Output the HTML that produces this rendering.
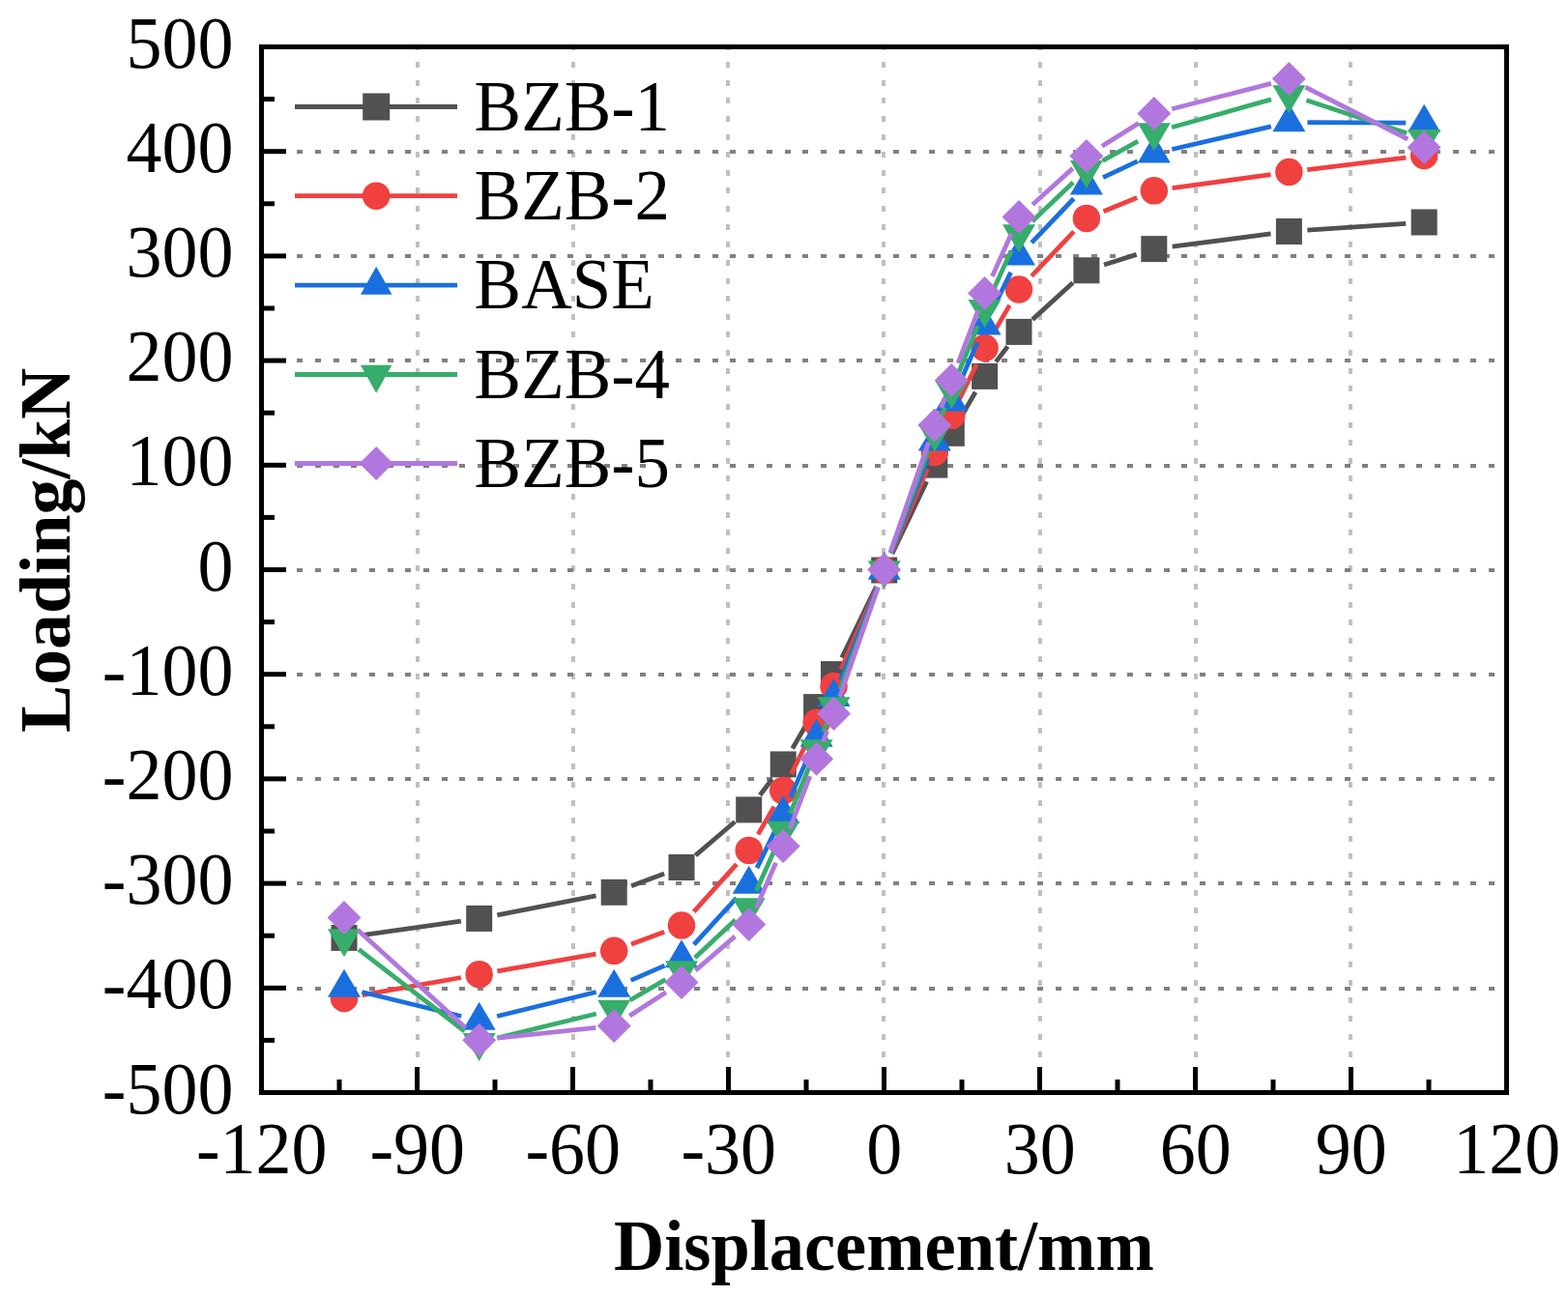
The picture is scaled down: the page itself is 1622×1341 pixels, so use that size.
<!DOCTYPE html>
<html><head><meta charset="utf-8"><style>html,body{margin:0;padding:0;background:#fff;}svg{display:block;}text{font-family:"Liberation Serif","Times New Roman",serif;}</style></head><body>
<svg width="1622" height="1341" viewBox="0 0 1622 1341">
<rect width="1622" height="1341" fill="#fff"/>
<g shape-rendering="crispEdges"><line x1="432" y1="45.5" x2="432" y2="1133" stroke="#C0C0C0" stroke-width="4" stroke-dasharray="6 12.62"/><line x1="593" y1="45.5" x2="593" y2="1133" stroke="#C0C0C0" stroke-width="4" stroke-dasharray="6 12.62"/><line x1="753" y1="45.5" x2="753" y2="1133" stroke="#C0C0C0" stroke-width="4" stroke-dasharray="6 12.62"/><line x1="914" y1="45.5" x2="914" y2="1133" stroke="#C0C0C0" stroke-width="4" stroke-dasharray="6 12.62"/><line x1="1076" y1="45.5" x2="1076" y2="1133" stroke="#C0C0C0" stroke-width="4" stroke-dasharray="6 12.62"/><line x1="1237" y1="45.5" x2="1237" y2="1133" stroke="#C0C0C0" stroke-width="4" stroke-dasharray="6 12.62"/><line x1="1397" y1="45.5" x2="1397" y2="1133" stroke="#C0C0C0" stroke-width="4" stroke-dasharray="6 12.62"/><line x1="269.8" y1="156.9" x2="1560" y2="156.9" stroke="#808080" stroke-width="4" stroke-dasharray="6 12.68"/><line x1="269.8" y1="265.1" x2="1560" y2="265.1" stroke="#808080" stroke-width="4" stroke-dasharray="6 12.68"/><line x1="269.8" y1="373.3" x2="1560" y2="373.3" stroke="#808080" stroke-width="4" stroke-dasharray="6 12.68"/><line x1="269.8" y1="481.5" x2="1560" y2="481.5" stroke="#808080" stroke-width="4" stroke-dasharray="6 12.68"/><line x1="269.8" y1="589.7" x2="1560" y2="589.7" stroke="#808080" stroke-width="4" stroke-dasharray="6 12.68"/><line x1="269.8" y1="697.9" x2="1560" y2="697.9" stroke="#808080" stroke-width="4" stroke-dasharray="6 12.68"/><line x1="269.8" y1="806.1" x2="1560" y2="806.1" stroke="#808080" stroke-width="4" stroke-dasharray="6 12.68"/><line x1="269.8" y1="914.3" x2="1560" y2="914.3" stroke="#808080" stroke-width="4" stroke-dasharray="6 12.68"/><line x1="269.8" y1="1022.5" x2="1560" y2="1022.5" stroke="#808080" stroke-width="4" stroke-dasharray="6 12.68"/></g>
<g><line x1="270" y1="1130.5" x2="296" y2="1130.5" stroke="#000" stroke-width="5"/><line x1="270" y1="1076.4" x2="284" y2="1076.4" stroke="#000" stroke-width="5"/><line x1="270" y1="1022.3" x2="296" y2="1022.3" stroke="#000" stroke-width="5"/><line x1="270" y1="968.2" x2="284" y2="968.2" stroke="#000" stroke-width="5"/><line x1="270" y1="914.1" x2="296" y2="914.1" stroke="#000" stroke-width="5"/><line x1="270" y1="860" x2="284" y2="860" stroke="#000" stroke-width="5"/><line x1="270" y1="805.9" x2="296" y2="805.9" stroke="#000" stroke-width="5"/><line x1="270" y1="751.8" x2="284" y2="751.8" stroke="#000" stroke-width="5"/><line x1="270" y1="697.7" x2="296" y2="697.7" stroke="#000" stroke-width="5"/><line x1="270" y1="643.6" x2="284" y2="643.6" stroke="#000" stroke-width="5"/><line x1="270" y1="589.5" x2="296" y2="589.5" stroke="#000" stroke-width="5"/><line x1="270" y1="535.4" x2="284" y2="535.4" stroke="#000" stroke-width="5"/><line x1="270" y1="481.3" x2="296" y2="481.3" stroke="#000" stroke-width="5"/><line x1="270" y1="427.2" x2="284" y2="427.2" stroke="#000" stroke-width="5"/><line x1="270" y1="373.1" x2="296" y2="373.1" stroke="#000" stroke-width="5"/><line x1="270" y1="319" x2="284" y2="319" stroke="#000" stroke-width="5"/><line x1="270" y1="264.9" x2="296" y2="264.9" stroke="#000" stroke-width="5"/><line x1="270" y1="210.8" x2="284" y2="210.8" stroke="#000" stroke-width="5"/><line x1="270" y1="156.7" x2="296" y2="156.7" stroke="#000" stroke-width="5"/><line x1="270" y1="102.6" x2="284" y2="102.6" stroke="#000" stroke-width="5"/><line x1="270" y1="48.5" x2="296" y2="48.5" stroke="#000" stroke-width="5"/><line x1="270.5" y1="1130" x2="270.5" y2="1104" stroke="#000" stroke-width="5"/><line x1="351" y1="1130" x2="351" y2="1117" stroke="#000" stroke-width="5"/><line x1="431.5" y1="1130" x2="431.5" y2="1104" stroke="#000" stroke-width="5"/><line x1="512" y1="1130" x2="512" y2="1117" stroke="#000" stroke-width="5"/><line x1="592.5" y1="1130" x2="592.5" y2="1104" stroke="#000" stroke-width="5"/><line x1="673" y1="1130" x2="673" y2="1117" stroke="#000" stroke-width="5"/><line x1="753.5" y1="1130" x2="753.5" y2="1104" stroke="#000" stroke-width="5"/><line x1="834" y1="1130" x2="834" y2="1117" stroke="#000" stroke-width="5"/><line x1="914.5" y1="1130" x2="914.5" y2="1104" stroke="#000" stroke-width="5"/><line x1="995" y1="1130" x2="995" y2="1117" stroke="#000" stroke-width="5"/><line x1="1075.5" y1="1130" x2="1075.5" y2="1104" stroke="#000" stroke-width="5"/><line x1="1156" y1="1130" x2="1156" y2="1117" stroke="#000" stroke-width="5"/><line x1="1236.5" y1="1130" x2="1236.5" y2="1104" stroke="#000" stroke-width="5"/><line x1="1317" y1="1130" x2="1317" y2="1117" stroke="#000" stroke-width="5"/><line x1="1397.5" y1="1130" x2="1397.5" y2="1104" stroke="#000" stroke-width="5"/><line x1="1478" y1="1130" x2="1478" y2="1117" stroke="#000" stroke-width="5"/><line x1="1558.5" y1="1130" x2="1558.5" y2="1104" stroke="#000" stroke-width="5"/></g>
<path d="M374.81 967.71L476.89 953.09M514.35 946.78L616.55 926.92M653.02 916.71L687.18 904.09M719.44 885.15L760.26 850.25M786.15 822.74L798.75 806.06M819.73 774.47L835.07 748.03M853.45 714.79L853.65 714.41M870.79 680.51L906.41 607.09M922.9 572.86L958.6 498.24M993.86 431.88L1009.04 405.82M1030.19 374.34L1042.41 358.46M1068.05 330.61L1109.85 292.59M1142.01 274.05L1175.69 263.35M1212.64 255.16L1314.56 241.94M1352.36 238.21L1454.24 231.29" stroke="#515151" stroke-width="4.8" fill="none"/>
<g><rect x="342.5" y="956.9" width="27" height="27" fill="#515151"/><rect x="482.2" y="936.9" width="27" height="27" fill="#515151"/><rect x="621.7" y="909.8" width="27" height="27" fill="#515151"/><rect x="691.5" y="884" width="27" height="27" fill="#515151"/><rect x="761.2" y="824.4" width="27" height="27" fill="#515151"/><rect x="796.7" y="777.4" width="27" height="27" fill="#515151"/><rect x="831.1" y="718.1" width="27" height="27" fill="#515151"/><rect x="849" y="684.1" width="27" height="27" fill="#515151"/><rect x="901.2" y="576.5" width="27" height="27" fill="#515151"/><rect x="953.3" y="467.6" width="27" height="27" fill="#515151"/><rect x="970.8" y="434.8" width="27" height="27" fill="#515151"/><rect x="1005.1" y="375.9" width="27" height="27" fill="#515151"/><rect x="1040.5" y="329.9" width="27" height="27" fill="#515151"/><rect x="1110.4" y="266.3" width="27" height="27" fill="#515151"/><rect x="1180.3" y="244.1" width="27" height="27" fill="#515151"/><rect x="1319.9" y="226" width="27" height="27" fill="#515151"/><rect x="1459.7" y="216.5" width="27" height="27" fill="#515151"/></g>
<path d="M374.71 1029.59L476.99 1011.51M514.42 1004.93L616.48 987.07M652.98 977.1L687.22 964.2M717.7 943.36L762 894.04M784.16 863.42L800.74 834.58M818.55 801.03L836.25 764.87M852.73 730.63L854.37 727.17M870.08 692.58L907.12 607.42M922.15 572.52L959.35 485.28M974.75 450.54L976.35 447.06M992.68 412.75L1010.22 377.05M1028.2 343.6L1044.4 315.9M1067.08 285.72L1110.82 239.68M1141.48 218.7L1176.22 204.5M1212.62 194.7L1314.58 180.6M1352.26 175.69L1454.34 163.21" stroke="#F14040" stroke-width="4.8" fill="none"/>
<g><circle cx="356" cy="1032.9" r="14.25" fill="#F14040"/><circle cx="495.7" cy="1008.2" r="14.25" fill="#F14040"/><circle cx="635.2" cy="983.8" r="14.25" fill="#F14040"/><circle cx="705" cy="957.5" r="14.25" fill="#F14040"/><circle cx="774.7" cy="879.9" r="14.25" fill="#F14040"/><circle cx="810.2" cy="818.1" r="14.25" fill="#F14040"/><circle cx="844.6" cy="747.8" r="14.25" fill="#F14040"/><circle cx="862.5" cy="710" r="14.25" fill="#F14040"/><circle cx="914.7" cy="590" r="14.25" fill="#F14040"/><circle cx="966.8" cy="467.8" r="14.25" fill="#F14040"/><circle cx="984.3" cy="429.8" r="14.25" fill="#F14040"/><circle cx="1018.6" cy="360" r="14.25" fill="#F14040"/><circle cx="1054" cy="299.5" r="14.25" fill="#F14040"/><circle cx="1123.9" cy="225.9" r="14.25" fill="#F14040"/><circle cx="1193.8" cy="197.3" r="14.25" fill="#F14040"/><circle cx="1333.4" cy="178" r="14.25" fill="#F14040"/><circle cx="1473.2" cy="160.9" r="14.25" fill="#F14040"/></g>
<path d="M374.46 1026.49L477.24 1051.51M514.16 1051.5L616.74 1026.5M652.61 1014.39L687.59 999.11M717.81 977.47L761.89 929.23M783.02 898.12L801.88 859.38M817.78 824.88L837.02 780.62M852.08 745.73L855.02 738.87M869.51 703.74L907.69 607.66M921.63 572.31L959.87 474.59M974.26 439.43L976.84 433.37M991.86 398.47L1011.04 354.23M1026.98 319.75L1045.62 281.85M1067.14 251.08L1110.76 205.52M1141.08 183.69L1176.62 166.91M1212.31 154.53L1314.89 130.87M1352.4 126.67L1454.2 127.03" stroke="#1A6FDF" stroke-width="4.8" fill="none"/>
<g><path d="M356 1002.67L373 1031.67L339 1031.67Z" fill="#1A6FDF"/><path d="M495.7 1036.67L512.7 1065.67L478.7 1065.67Z" fill="#1A6FDF"/><path d="M635.2 1002.67L652.2 1031.67L618.2 1031.67Z" fill="#1A6FDF"/><path d="M705 972.17L722 1001.17L688 1001.17Z" fill="#1A6FDF"/><path d="M774.7 895.87L791.7 924.87L757.7 924.87Z" fill="#1A6FDF"/><path d="M810.2 822.97L827.2 851.97L793.2 851.97Z" fill="#1A6FDF"/><path d="M844.6 743.87L861.6 772.87L827.6 772.87Z" fill="#1A6FDF"/><path d="M862.5 702.07L879.5 731.07L845.5 731.07Z" fill="#1A6FDF"/><path d="M914.7 570.67L931.7 599.67L897.7 599.67Z" fill="#1A6FDF"/><path d="M966.8 437.57L983.8 466.57L949.8 466.57Z" fill="#1A6FDF"/><path d="M984.3 396.57L1001.3 425.57L967.3 425.57Z" fill="#1A6FDF"/><path d="M1018.6 317.47L1035.6 346.47L1001.6 346.47Z" fill="#1A6FDF"/><path d="M1054 245.47L1071 274.47L1037 274.47Z" fill="#1A6FDF"/><path d="M1123.9 172.47L1140.9 201.47L1106.9 201.47Z" fill="#1A6FDF"/><path d="M1193.8 139.47L1210.8 168.47L1176.8 168.47Z" fill="#1A6FDF"/><path d="M1333.4 107.27L1350.4 136.27L1316.4 136.27Z" fill="#1A6FDF"/><path d="M1473.2 107.77L1490.2 136.77L1456.2 136.77Z" fill="#1A6FDF"/></g>
<path d="M371.04 982.41L480.66 1066.99M514.16 1074.09L616.74 1049.01M651.63 1034.96L688.57 1013.54M718.89 991.03L760.81 951.87M782.46 921.55L802.44 876.85M817.36 841.9L837.44 792.5M851.75 757.29L855.35 748.41M869.1 712.98L908.1 607.82M921.26 572.17L960.24 466.23M973.71 430.7L977.39 421.3M991.49 386.01L1011.41 337.29M1026.48 302.41L1046.12 259.29M1067.79 228.92L1110.11 188.78M1140.5 166.46L1177.2 146.04M1212.1 131.69L1315.1 102.91M1351.45 103.73L1455.15 137.77" stroke="#37AD6B" stroke-width="4.8" fill="none"/>
<g><path d="M339 961.13L373 961.13L356 990.13Z" fill="#37AD6B"/><path d="M478.7 1068.93L512.7 1068.93L495.7 1097.93Z" fill="#37AD6B"/><path d="M618.2 1034.83L652.2 1034.83L635.2 1063.83Z" fill="#37AD6B"/><path d="M688 994.33L722 994.33L705 1023.33Z" fill="#37AD6B"/><path d="M757.7 929.23L791.7 929.23L774.7 958.23Z" fill="#37AD6B"/><path d="M793.2 849.83L827.2 849.83L810.2 878.83Z" fill="#37AD6B"/><path d="M827.6 765.23L861.6 765.23L844.6 794.23Z" fill="#37AD6B"/><path d="M845.5 721.13L879.5 721.13L862.5 750.13Z" fill="#37AD6B"/><path d="M897.7 580.33L931.7 580.33L914.7 609.33Z" fill="#37AD6B"/><path d="M949.8 438.73L983.8 438.73L966.8 467.73Z" fill="#37AD6B"/><path d="M967.3 393.93L1001.3 393.93L984.3 422.93Z" fill="#37AD6B"/><path d="M1001.6 310.03L1035.6 310.03L1018.6 339.03Z" fill="#37AD6B"/><path d="M1037 232.33L1071 232.33L1054 261.33Z" fill="#37AD6B"/><path d="M1106.9 166.03L1140.9 166.03L1123.9 195.03Z" fill="#37AD6B"/><path d="M1176.8 127.13L1210.8 127.13L1193.8 156.13Z" fill="#37AD6B"/><path d="M1316.4 88.13L1350.4 88.13L1333.4 117.13Z" fill="#37AD6B"/><path d="M1456.2 134.03L1490.2 134.03L1473.2 163.03Z" fill="#37AD6B"/></g>
<path d="M370.07 962.26L481.63 1063.44M514.59 1074.2L616.31 1063.4M651.18 1051.12L689.02 1026.78M719.4 1004.1L760.3 968.9M782.32 939.09L802.58 892.81M816.98 857.65L837.82 803.05M851.4 767.56L855.7 756.34M868.78 720.67L908.42 607.53M920.95 571.66L960.55 457.84M973.5 422.12L977.6 411.28M991.06 375.74L1011.84 321.16M1026.37 286.06L1046.23 241.74M1068.11 211.68L1109.79 174.12M1139.99 151.29L1177.71 127.61M1212.2 112.77L1315 86.33M1350.34 90.2L1456.26 144" stroke="#B177DE" stroke-width="4.8" fill="none"/>
<g><path d="M356 932L373.5 949.5L356 967L338.5 949.5Z" fill="#B177DE"/><path d="M495.7 1058.7L513.2 1076.2L495.7 1093.7L478.2 1076.2Z" fill="#B177DE"/><path d="M635.2 1043.9L652.7 1061.4L635.2 1078.9L617.7 1061.4Z" fill="#B177DE"/><path d="M705 999L722.5 1016.5L705 1034L687.5 1016.5Z" fill="#B177DE"/><path d="M774.7 939L792.2 956.5L774.7 974L757.2 956.5Z" fill="#B177DE"/><path d="M810.2 857.9L827.7 875.4L810.2 892.9L792.7 875.4Z" fill="#B177DE"/><path d="M844.6 767.8L862.1 785.3L844.6 802.8L827.1 785.3Z" fill="#B177DE"/><path d="M862.5 721.1L880 738.6L862.5 756.1L845 738.6Z" fill="#B177DE"/><path d="M914.7 572.1L932.2 589.6L914.7 607.1L897.2 589.6Z" fill="#B177DE"/><path d="M966.8 422.4L984.3 439.9L966.8 457.4L949.3 439.9Z" fill="#B177DE"/><path d="M984.3 376L1001.8 393.5L984.3 411L966.8 393.5Z" fill="#B177DE"/><path d="M1018.6 285.9L1036.1 303.4L1018.6 320.9L1001.1 303.4Z" fill="#B177DE"/><path d="M1054 206.9L1071.5 224.4L1054 241.9L1036.5 224.4Z" fill="#B177DE"/><path d="M1123.9 143.9L1141.4 161.4L1123.9 178.9L1106.4 161.4Z" fill="#B177DE"/><path d="M1193.8 100L1211.3 117.5L1193.8 135L1176.3 117.5Z" fill="#B177DE"/><path d="M1333.4 64.1L1350.9 81.6L1333.4 99.1L1315.9 81.6Z" fill="#B177DE"/><path d="M1473.2 135.1L1490.7 152.6L1473.2 170.1L1455.7 152.6Z" fill="#B177DE"/></g>
<line x1="305" y1="110.5" x2="473" y2="110.5" stroke="#515151" stroke-width="4.8"/>
<rect x="375.2" y="96.5" width="28" height="28" fill="#515151"/>
<text transform="translate(490.6 134.7) scale(0.984 1)" font-size="74" fill="#000">BZB-1</text>
<line x1="305" y1="202.7" x2="473" y2="202.7" stroke="#F14040" stroke-width="4.8"/>
<circle cx="389.2" cy="202.7" r="14.25" fill="#F14040"/>
<text transform="translate(490.6 226.9) scale(0.984 1)" font-size="74" fill="#000">BZB-2</text>
<line x1="305" y1="295.2" x2="473" y2="295.2" stroke="#1A6FDF" stroke-width="4.8"/>
<path d="M389.2 275.87L405.45 304.87L372.95 304.87Z" fill="#1A6FDF"/>
<text transform="translate(490.6 319.4) scale(0.984 1)" font-size="74" fill="#000">BASE</text>
<line x1="305" y1="387.5" x2="473" y2="387.5" stroke="#37AD6B" stroke-width="4.8"/>
<path d="M372.95 377.83L405.45 377.83L389.2 406.83Z" fill="#37AD6B"/>
<text transform="translate(490.6 411.7) scale(0.984 1)" font-size="74" fill="#000">BZB-4</text>
<line x1="305" y1="479.5" x2="473" y2="479.5" stroke="#B177DE" stroke-width="4.8"/>
<path d="M389.2 462L406.7 479.5L389.2 497L371.7 479.5Z" fill="#B177DE"/>
<text transform="translate(490.6 503.7) scale(0.984 1)" font-size="74" fill="#000">BZB-5</text>
<rect x="270.5" y="48.5" width="1288" height="1082" fill="none" stroke="#000" stroke-width="5"/>
<text transform="translate(241.5 1151.5) scale(1 1.025)" font-size="74" text-anchor="end">-500</text><text transform="translate(241.5 1043.3) scale(1 1.025)" font-size="74" text-anchor="end">-400</text><text transform="translate(241.5 935.1) scale(1 1.025)" font-size="74" text-anchor="end">-300</text><text transform="translate(241.5 826.9) scale(1 1.025)" font-size="74" text-anchor="end">-200</text><text transform="translate(241.5 718.7) scale(1 1.025)" font-size="74" text-anchor="end">-100</text><text transform="translate(241.5 610.5) scale(1 1.025)" font-size="74" text-anchor="end">0</text><text transform="translate(241.5 502.3) scale(1 1.025)" font-size="74" text-anchor="end">100</text><text transform="translate(241.5 394.1) scale(1 1.025)" font-size="74" text-anchor="end">200</text><text transform="translate(241.5 285.9) scale(1 1.025)" font-size="74" text-anchor="end">300</text><text transform="translate(241.5 177.7) scale(1 1.025)" font-size="74" text-anchor="end">400</text><text transform="translate(241.5 69.5) scale(1 1.025)" font-size="74" text-anchor="end">500</text>
<text transform="translate(270.8 1214.3) scale(1 1.025)" font-size="74" text-anchor="middle">-120</text><text transform="translate(431.8 1214.3) scale(1 1.025)" font-size="74" text-anchor="middle">-90</text><text transform="translate(592.8 1214.3) scale(1 1.025)" font-size="74" text-anchor="middle">-60</text><text transform="translate(753.8 1214.3) scale(1 1.025)" font-size="74" text-anchor="middle">-30</text><text transform="translate(914.8 1214.3) scale(1 1.025)" font-size="74" text-anchor="middle">0</text><text transform="translate(1075.8 1214.3) scale(1 1.025)" font-size="74" text-anchor="middle">30</text><text transform="translate(1236.8 1214.3) scale(1 1.025)" font-size="74" text-anchor="middle">60</text><text transform="translate(1397.8 1214.3) scale(1 1.025)" font-size="74" text-anchor="middle">90</text><text transform="translate(1558.8 1214.3) scale(1 1.025)" font-size="74" text-anchor="middle">120</text>
<text transform="translate(914.3 1314) scale(0.978 1)" font-size="74" font-weight="bold" text-anchor="middle">Displacement/mm</text>
<text transform="translate(71.8 569.4) rotate(-90) scale(0.997 1)" font-size="74" font-weight="bold" text-anchor="middle">Loading/kN</text>
</svg></body></html>
